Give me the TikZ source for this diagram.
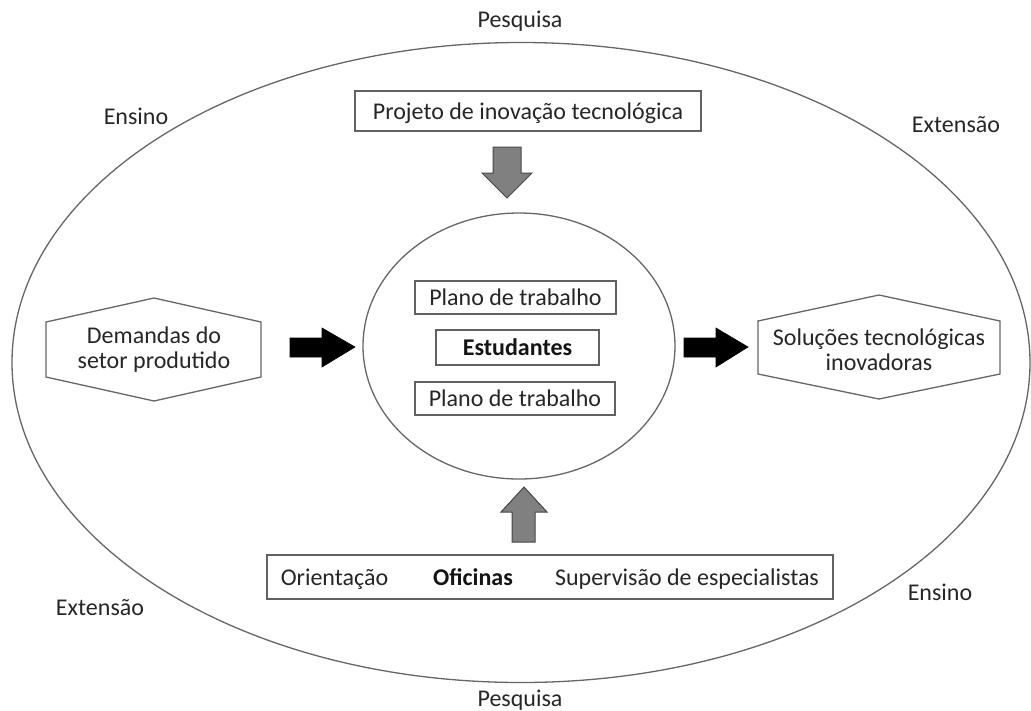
\documentclass[tikz,border=0pt]{standalone}
\usepackage{fontspec}
\setmainfont{Carlito}
\begin{document}
\begin{tikzpicture}[x=1pt,y=-1pt,
  txt/.style={font=\fontsize{24}{25}\selectfont, text=black!85, inner sep=0pt},
  btxt/.style={txt, font=\fontsize{24}{25}\selectfont\bfseries, text=black!92},
  boxnode/.style={draw=black!62, line width=1.3pt, fill=white, inner sep=0pt},
  ring/.style={draw=black!60, line width=1.3pt},
  hexline/.style={draw=black!60, line width=1.3pt, fill=white},
  garrow/.style={fill=black!50, draw=black!72, line width=1pt, line join=miter},
  barrow/.style={fill=black, draw=black, line width=0.6pt}]
\useasboundingbox (0,0) rectangle (1031,710);
% outer ellipse
\draw[ring] (521,362.5) ellipse [x radius=509, y radius=320];
% inner ellipse
\draw[ring] (519,346) ellipse [x radius=156, y radius=133];
% ring labels
\node[txt, anchor=base] (pesqT) at (520,27) {Pesquisa};
\node[txt, anchor=base] (pesqB) at (520,706) {Pesquisa};
\node[txt, anchor=base] (ensT) at (136,124) {Ensino};
\node[txt, anchor=base] (extT) at (956,132) {Extensão};
\node[txt, anchor=base] (extB) at (100,615) {Extensão};
\node[txt, anchor=base] (ensB) at (940,600) {Ensino};
% project box
\node[boxnode, minimum width=346pt, minimum height=40pt] (proj) at (528,111) {};
\node[txt, anchor=base] (projt) at (528,119) {Projeto de inovação tecnológica};
% inner boxes
\node[boxnode, minimum width=201pt, minimum height=33pt] (pl1) at (515.5,297.5) {};
\node[txt, anchor=base] (pl1t) at (515.5,305) {Plano de trabalho};
\node[boxnode, minimum width=163pt, minimum height=35pt] (est) at (517.5,347.5) {};
\node[btxt, anchor=base] (estt) at (517.5,355) {Estudantes};
\node[boxnode, minimum width=200pt, minimum height=33pt] (pl2) at (515,398.5) {};
\node[txt, anchor=base] (pl2t) at (515,406) {Plano de trabalho};
% bottom box
\node[boxnode, minimum width=566pt, minimum height=44pt] (bot) at (550,577) {};
\node[txt, anchor=base] (ori) at (334.5,585) {Orientação};
\node[btxt, anchor=base] (ofi) at (473,585) {Oficinas};
\node[txt, anchor=base] (sup) at (687,585) {Supervisão de especialistas};
% hexagons
\draw[hexline] (46,322) -- (154,298) -- (261,322) -- (261,377) -- (154,401) -- (46,377) -- cycle;
\node[txt, align=center] (dem) at (154,350) {Demandas do\\setor produtido};
\draw[hexline] (758,321) -- (879,295) -- (1000,321) -- (1000,374) -- (879,399) -- (758,374) -- cycle;
\node[txt, align=center] (sol) at (879,350) {Soluções tecnológicas\\inovadoras};
% gray arrows
\draw[garrow] (493,147) -- (521,147) -- (521,173) -- (532,173) -- (507,198) -- (482,173) -- (493,173) -- cycle;
\draw[garrow] (512,542) -- (535,542) -- (535,512) -- (547,512) -- (524,487) -- (501,512) -- (512,512) -- cycle;
% black arrows
\draw[barrow] (290,338) -- (322,338) -- (322,328) -- (355,347) -- (322,367) -- (322,357) -- (290,357) -- cycle;
\draw[barrow] (684,338) -- (716,338) -- (716,328) -- (748,347) -- (716,367) -- (716,357) -- (684,357) -- cycle;
\end{tikzpicture}
\end{document}
